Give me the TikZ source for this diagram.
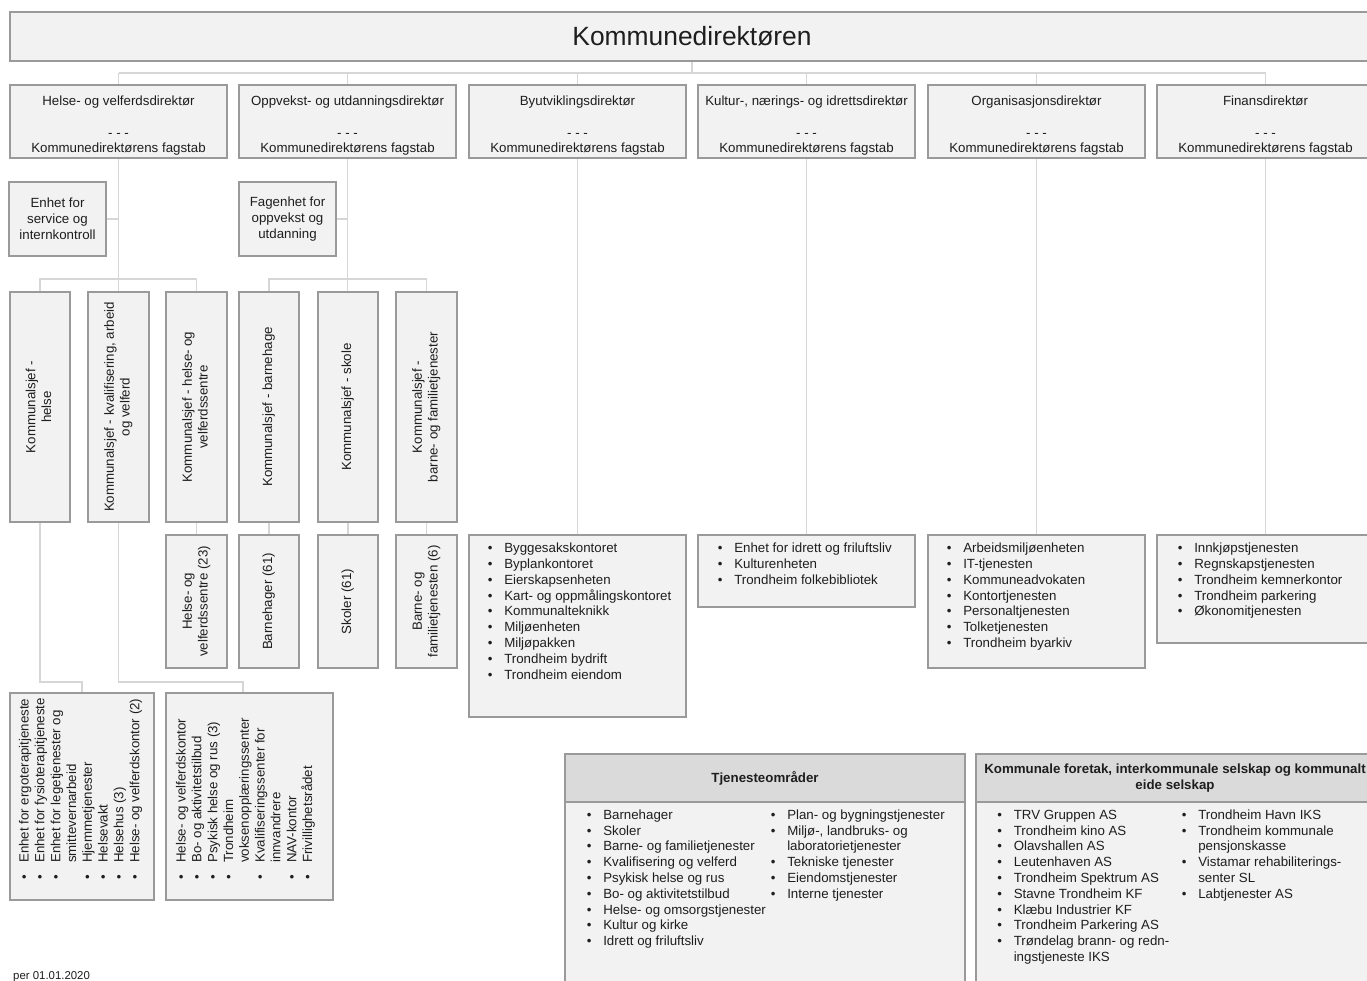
\documentclass[tikz,border=0pt]{standalone}
\usepackage{fontspec}
\setmainfont{Liberation Sans}
\usepackage{graphicx}
\definecolor{boxfill}{HTML}{F2F2F2}
\definecolor{boxline}{HTML}{9A9A9A}
\definecolor{connline}{HTML}{D6D6D6}
\definecolor{headfill}{HTML}{DADADA}
\definecolor{txt}{HTML}{1E1E1E}
\newcommand{\fs}{\fontsize{13.3}{15.8}\selectfont}
\newcommand{\lst}[1]{\begin{tabular}{@{}l@{\hspace{11.7pt}}l@{}}#1\end{tabular}}
\newcommand{\rtab}[1]{\rotatebox{90}{\begin{tabular}{@{}c@{}}#1\end{tabular}}}
\newcommand{\dirtxt}[1]{\rule{0pt}{18pt}#1\\[15.8pt]- - -\\Kommunedirektørens fagstab}
\newcommand{\rbox}[7][box]{\node[#1, minimum width={#5-#3}, minimum height={#6-#4}] (#2) at ({(#3+#5)/2},{(#4+#6)/2}) {#7};}
\pgfdeclarelayer{back}
\pgfdeclarelayer{bg}
\pgfsetlayers{back,bg,main}
\tikzset{
  box/.style={draw=boxline, fill=boxfill, line width=1.2pt, inner sep=0pt, align=center, text=txt, font=\fs},
  head/.style={box, fill=headfill, font=\fs\bfseries},
  conn/.style={draw=connline, line width=1.8pt},
  txtnode/.style={inner sep=0pt, text=txt, font=\fs},
}
\begin{document}
\begin{tikzpicture}[x=1pt,y=-1pt]
\begin{pgfonlayer}{back}
\fill[white] (0,0) rectangle (1367,980);
\end{pgfonlayer}
\clip (0,0) rectangle (1367,980);

% top
\rbox{top}{10}{12}{1374}{61}{\fontsize{26.4}{30}\selectfont Kommunedirektøren}

% directors
\rbox{d1}{10}{85}{227}{158}{\dirtxt{Helse- og velferdsdirektør}}
\rbox{d2}{239}{85}{456}{158}{\dirtxt{Oppvekst- og utdanningsdirektør}}
\rbox{d3}{469}{85}{686}{158}{\dirtxt{Byutviklingsdirektør}}
\rbox{d4}{698}{85}{915}{158}{\dirtxt{Kultur-, nærings- og idrettsdirektør}}
\rbox{d5}{928}{85}{1145}{158}{\dirtxt{Organisasjonsdirektør}}
\rbox{d6}{1157}{85}{1374}{158}{\dirtxt{Finansdirektør}}

% staff units
\rbox{s1}{9}{182}{106}{256}{Enhet for\\service og\\internkontroll}
\rbox{s2}{239}{182}{336}{256}{Fagenhet for\\oppvekst og\\utdanning}

% kommunalsjefer
\rbox{k1}{10}{292}{70}{522}{\rtab{Kommunalsjef -\\helse}}
\rbox{k2}{88}{292}{149}{522}{\rtab{Kommunalsjef - kvalifisering, arbeid\\og velferd}}
\rbox{k3}{166}{292}{227}{522}{\rtab{Kommunalsjef - helse- og\\velferdssentre}}
\rbox{k4}{239}{292}{299}{522}{\rtab{Kommunalsjef - barnehage}}
\rbox{k5}{318}{292}{378}{522}{\rtab{Kommunalsjef - skole}}
\rbox{k6}{396}{292}{457}{522}{\rtab{Kommunalsjef -\\barne- og familietjenester}}

% lower units
\rbox{l3}{166}{535}{227}{668}{\rtab{Helse- og\\velferdssentre (23)}}
\rbox{l4}{239}{535}{299}{668}{\rtab{Barnehager (61)}}
\rbox{l5}{318}{535}{378}{668}{\rtab{Skoler (61)}}
\rbox{l6}{396}{535}{457}{668}{\rtab{Barne- og\\familietjenesten (6)}}

% list boxes under directors
\rbox{b3}{469}{535}{686}{717}{}
\rbox{b4}{698}{535}{915}{607}{}
\rbox{b5}{928}{535}{1145}{668}{}
\rbox{b6}{1157}{535}{1374}{643}{}

\node[txtnode, anchor=north west] (b3t) at (487.7,541.5) {\lst{%
\textbullet & Byggesakskontoret\\
\textbullet & Byplankontoret\\
\textbullet & Eierskapsenheten\\
\textbullet & Kart- og oppmålingskontoret\\
\textbullet & Kommunalteknikk\\
\textbullet & Miljøenheten\\
\textbullet & Miljøpakken\\
\textbullet & Trondheim bydrift\\
\textbullet & Trondheim eiendom}};
\node[txtnode, anchor=north west] (b4t) at (717.7,541.5) {\lst{%
\textbullet & Enhet for idrett og friluftsliv\\
\textbullet & Kulturenheten\\
\textbullet & Trondheim folkebibliotek}};
\node[txtnode, anchor=north west] (b5t) at (946.7,541.5) {\lst{%
\textbullet & Arbeidsmiljøenheten\\
\textbullet & IT-tjenesten\\
\textbullet & Kommuneadvokaten\\
\textbullet & Kontortjenesten\\
\textbullet & Personaltjenesten\\
\textbullet & Tolketjenesten\\
\textbullet & Trondheim byarkiv}};
\node[txtnode, anchor=north west] (b6t) at (1177.7,541.5) {\lst{%
\textbullet & Innkjøpstjenesten\\
\textbullet & Regnskapstjenesten\\
\textbullet & Trondheim kemnerkontor\\
\textbullet & Trondheim parkering\\
\textbullet & Økonomitjenesten}};

% bottom-left rotated lists
\rbox{bl1}{10}{693}{154}{900}{}
\rbox{bl2}{166}{693}{333}{900}{}
\node[txtnode, anchor=south west] (bl1t) at (17.4,879.3) {\rotatebox{90}{\lst{%
\textbullet & Enhet for ergoterapitjeneste\\
\textbullet & Enhet for fysioterapitjeneste\\
\textbullet & Enhet for legetjenester og\\
 & smittevernarbeid\\
\textbullet & Hjemmetjenester\\
\textbullet & Helsevakt\\
\textbullet & Helsehus (3)\\
\textbullet & Helse- og velferdskontor (2)}}};
\node[txtnode, anchor=south west] (bl2t) at (174.4,879.3) {\rotatebox{90}{\lst{%
\textbullet & Helse- og velferdskontor\\
\textbullet & Bo- og aktivitetstilbud\\
\textbullet & Psykisk helse og rus (3)\\
\textbullet & Trondheim\\
 & voksenopplæringssenter\\
\textbullet & Kvalifiseringssenter for\\
 & innvandrere\\
\textbullet & NAV-kontor\\
\textbullet & Frivillighetsrådet}}};

% bottom tables
\rbox[head]{t1h}{565}{754}{965}{802}{Tjenesteområder}
\rbox{t1b}{565}{802}{965}{995}{}
\rbox[head]{t2h}{976}{754}{1374}{802}{Kommunale foretak, interkommunale selskap og kommunalt\\eide selskap}
\rbox{t2b}{976}{802}{1374}{995}{}

\node[txtnode, anchor=north west] (t1c1) at (586.7,808) {\lst{%
\textbullet & Barnehager\\
\textbullet & Skoler\\
\textbullet & Barne- og familietjenester\\
\textbullet & Kvalifisering og velferd\\
\textbullet & Psykisk helse og rus\\
\textbullet & Bo- og aktivitetstilbud\\
\textbullet & Helse- og omsorgstjenester\\
\textbullet & Kultur og kirke\\
\textbullet & Idrett og friluftsliv}};
\node[txtnode, anchor=north west] (t1c2) at (770.7,808) {\lst{%
\textbullet & Plan- og bygningstjenester\\
\textbullet & Miljø-, landbruks- og\\
 & laboratorietjenester\\
\textbullet & Tekniske tjenester\\
\textbullet & Eiendomstjenester\\
\textbullet & Interne tjenester}};
\node[txtnode, anchor=north west] (t2c1) at (997.2,808) {\lst{%
\textbullet & TRV Gruppen AS\\
\textbullet & Trondheim kino AS\\
\textbullet & Olavshallen AS\\
\textbullet & Leutenhaven AS\\
\textbullet & Trondheim Spektrum AS\\
\textbullet & Stavne Trondheim KF\\
\textbullet & Klæbu Industrier KF\\
\textbullet & Trondheim Parkering AS\\
\textbullet & Trøndelag brann- og redn-\\
 & ingstjeneste IKS}};
\node[txtnode, anchor=north west] (t2c2) at (1181.7,808) {\lst{%
\textbullet & Trondheim Havn IKS\\
\textbullet & Trondheim kommunale\\
 & pensjonskasse\\
\textbullet & Vistamar rehabiliterings-\\
 & senter SL\\
\textbullet & Labtjenester AS}};

\node[txtnode, anchor=base west, font=\fontsize{11.4}{13}\selectfont] (date) at (13,979) {per 01.01.2020};

% connectors
\begin{pgfonlayer}{bg}
\coordinate (bus0) at (0,73);
\coordinate (busL) at (0,279);
\coordinate (busB) at (0,682);
\coordinate (j2) at (243,682);
\draw[conn] (top.south) -- (top.south |- bus0);
\draw[conn] (d1.north |- bus0) -- (d6.north |- bus0);
\foreach \d in {d1,d2,d3,d4,d5,d6} {\draw[conn] (\d.north) -- (\d.north |- bus0);}
\draw[conn] (d1.south) -- (d1.south |- k2.north);
\draw[conn] (d2.south) -- (d2.south |- k5.north);
\draw[conn] (s1.east) -- (s1.east -| d1.south);
\draw[conn] (s2.east) -- (s2.east -| d2.south);
\draw[conn] (k1.north) -- (k1.north |- busL) -- (k3.north |- busL) -- (k3.north);
\draw[conn] (k4.north) -- (k4.north |- busL) -- (k6.north |- busL) -- (k6.north);
\draw[conn] (k3.south) -- (l3.north);
\draw[conn] (k4.south) -- (l4.north);
\draw[conn] (k5.south) -- (l5.north);
\draw[conn] (k6.south) -- (l6.north);
\draw[conn] (d3.south) -- (b3.north);
\draw[conn] (d4.south) -- (b4.north);
\draw[conn] (d5.south) -- (b5.north);
\draw[conn] (d6.south) -- (b6.north);
\draw[conn] (k1.south) -- (k1.south |- busB) -| (bl1.north);
\draw[conn] (k2.south) |- (j2) -- (j2 |- bl2.north);
\end{pgfonlayer}
\end{tikzpicture}
\end{document}
